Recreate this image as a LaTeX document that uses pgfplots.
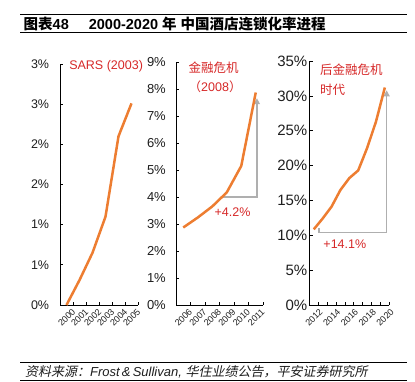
\documentclass[border=0pt]{standalone}
\usepackage{fontspec}
\setmainfont{Liberation Sans}
\newfontfamily\cjk{Noto Sans CJK SC}
\newfontfamily\cjkit{Noto Sans CJK SC}[FakeSlant=0.2]
\usepackage{pgfplots}
\pgfplotsset{compat=1.18}
\usetikzlibrary{arrows.meta}
\definecolor{lineorange}{RGB}{237,125,49}
\definecolor{annred}{RGB}{214,40,40}
\definecolor{arrowgray}{RGB}{175,175,175}
\definecolor{ticktext}{RGB}{30,30,30}
\pgfplotsset{
  panel/.style={
    scale only axis, anchor=south west,
    axis x line=bottom, axis y line=left,
    axis line style={-, line width=0.8pt, black},
    tick align=inside,
    major tick length=0pt, minor tick length=3.5pt,
    minor tick style={line width=0.7pt, black},
    clip=false,
    xticklabel style={rotate=45, anchor=east, inner sep=0pt, text=ticktext,
      font=\fontsize{9}{10}\selectfont, xshift=1.5pt, yshift=-9pt},
    yticklabel style={anchor=east, inner sep=0pt, text=ticktext},
  },
  orangeline/.style={lineorange, line width=2.5pt, mark=none},
}
\tikzset{
  grayarrow/.style={arrowgray, line width=1.3pt, -{Triangle[width=6pt,length=6pt]}},
  ann/.style={annred, inner sep=0pt, font=\fontsize{12.5}{14}\selectfont},
}
\begin{document}
\begin{tikzpicture}
\useasboundingbox (0pt,0pt) rectangle (415pt,-382pt);
% title
\draw[line width=1.5pt] (20pt,-14.3pt) -- (407pt,-14.3pt);
\draw[line width=1pt] (20pt,-32.3pt) -- (407pt,-32.3pt);
\node[anchor=west, inner sep=0pt, font=\fontsize{14.5}{16}\selectfont\bfseries] at (23.5pt,-24.5pt)
  {{\cjk\bfseries 图表}48\hspace{20pt}2000-2020\hspace{4pt}{\cjk\bfseries 年\hspace{4pt}中国酒店连锁化率进程}};
% source
\draw[line width=1.5pt] (20pt,-362.7pt) -- (407pt,-362.7pt);
\draw[line width=1pt] (20pt,-380.7pt) -- (407pt,-380.7pt);
\node[anchor=west, inner sep=0pt, font=\fontsize{13}{15}\selectfont, text=ticktext] at (25pt,-371.5pt)
  {{\cjkit 资料来源：}\textit{Frost\,\&\,Sullivan,} {\cjkit 华住业绩公告，平安证券研究所}};

% Panel 1
\begin{axis}[panel, at={(60pt,-305pt)}, width=78pt, height=241pt,
  xmin=1999.5, xmax=2005.5, ymin=0, ymax=3,
  xtick={2000,2001,2002,2003,2004,2005},
  xticklabels={2000,2001,2002,2003,2004,2005},
  minor xtick={1999.5,2000.5,2001.5,2002.5,2003.5,2004.5,2005.5},
  ytick={0,0.5,1,1.5,2,2.5,3},
  yticklabels={0\%,1\%,1\%,2\%,2\%,3\%,3\%},
  minor ytick={0,0.5,1,1.5,2,2.5,3},
  yticklabel style={font=\fontsize{12.5}{14}\selectfont, xshift=-10.7pt},
]
\addplot[orangeline] coordinates {(2000,0) (2001,0.31) (2002,0.65) (2003,1.10) (2004,2.10) (2005,2.51)};
\node[ann, anchor=west] at (axis cs:2000.2,2.97) {SARS (2003)};
\end{axis}

% Panel 2
\begin{axis}[panel, at={(176pt,-305pt)}, width=87pt, height=243pt,
  xmin=2005.5, xmax=2011.5, ymin=0, ymax=9,
  xtick={2006,2007,2008,2009,2010,2011},
  xticklabels={2006,2007,2008,2009,2010,2011},
  minor xtick={2005.5,2006.5,2007.5,2008.5,2009.5,2010.5,2011.5},
  ytick={0,1,2,3,4,5,6,7,8,9},
  yticklabels={0\%,1\%,2\%,3\%,4\%,5\%,6\%,7\%,8\%,9\%},
  minor ytick={0,1,2,3,4,5,6,7,8,9},
  yticklabel style={font=\fontsize{13}{15}\selectfont, xshift=-10pt},
]
\draw[grayarrow] (axis cs:2008.64,4.0) -- (axis cs:2011.08,4.0) -- (axis cs:2011.08,7.66);
\addplot[orangeline] coordinates {(2006,2.87) (2007,3.24) (2008,3.65) (2009,4.17) (2010,5.15) (2011,7.87)};
\node[ann] at (axis cs:2008.1,8.78) {\cjk 金融危机};
\node[ann] at (axis cs:2008.2,8.1) {{\cjk （}2008{\cjk ）}};
\node[ann] at (axis cs:2009.4,3.44) {+4.2\%};
\end{axis}

% Panel 3
\begin{axis}[panel, at={(309.3pt,-305pt)}, width=80pt, height=244pt,
  xmin=2011.5, xmax=2020.5, ymin=0, ymax=35,
  xtick={2012,2014,2016,2018,2020},
  xticklabels={2012,2014,2016,2018,2020},
  minor xtick={2011.5,2012.5,2013.5,2014.5,2015.5,2016.5,2017.5,2018.5,2019.5,2020.5},
  ytick={0,5,10,15,20,25,30,35},
  yticklabels={0\%,5\%,10\%,15\%,20\%,25\%,30\%,35\%},
  minor ytick={0,5,10,15,20,25,30,35},
  yticklabel style={font=\fontsize{15}{17}\selectfont, xshift=-1.8pt},
]
\draw[grayarrow] (axis cs:2012.6,11.1) -- (axis cs:2012.6,10.43) -- (axis cs:2020.2,10.43) -- (axis cs:2020.2,30.8);
\addplot[orangeline] coordinates {(2012,10.85) (2013,12.4) (2014,14.1) (2015,16.5) (2016,18.2) (2017,19.3) (2018,22.5) (2019,26.3) (2020,31.2)};
\node[ann, anchor=west] at (axis cs:2012.7,33.7) {\cjk 后金融危机};
\node[ann, anchor=west] at (axis cs:2012.7,30.9) {\cjk 时代};
\node[ann] at (axis cs:2015.5,8.75) {+14.1\%};
\end{axis}
\end{tikzpicture}
\end{document}
